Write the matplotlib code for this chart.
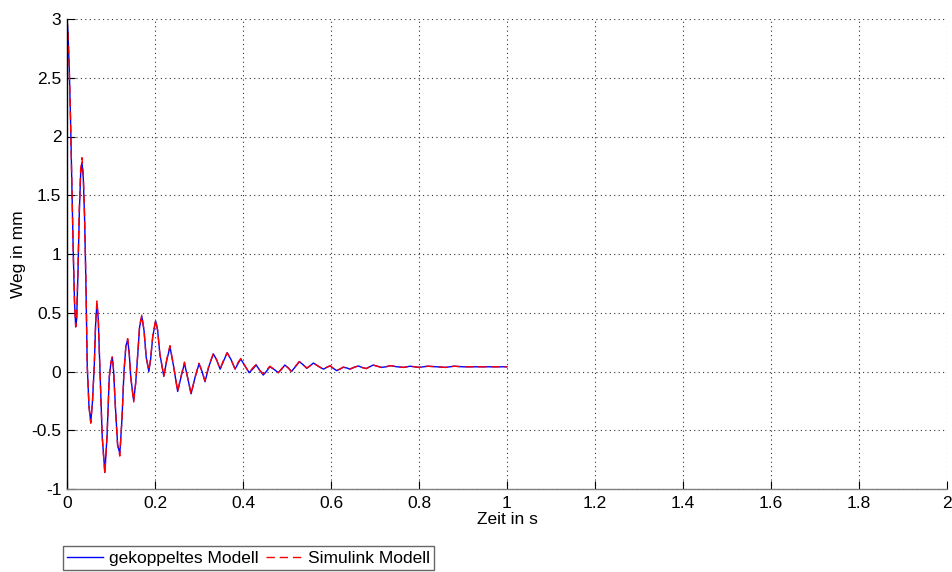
import matplotlib
matplotlib.use("Agg")
import matplotlib.pyplot as plt

plt.rcParams['font.family'] = ['Liberation Sans', 'DejaVu Sans']

# Time axis (s) and displacement (mm) of the coupled model
t_gekoppelt = [
    0.000, 0.002, 0.005, 0.008, 0.011, 0.014, 0.017, 0.0198, 0.022, 0.025,
    0.028, 0.031, 0.034, 0.037, 0.040, 0.043, 0.046, 0.050, 0.054, 0.058,
    0.062, 0.065, 0.068, 0.071, 0.075, 0.080, 0.086, 0.091, 0.096, 0.100,
    0.103, 0.106, 0.110, 0.115, 0.120, 0.125, 0.1295, 0.134, 0.138, 0.1415,
    0.145, 0.1515, 0.156, 0.160, 0.165, 0.170, 0.175, 0.180, 0.186, 0.190,
    0.195, 0.2015, 0.206, 0.211, 0.220, 0.227, 0.234, 0.242, 0.2515, 0.259,
    0.267, 0.274, 0.282, 0.291, 0.300, 0.307, 0.3136, 0.323, 0.3326, 0.340,
    0.348, 0.356, 0.364, 0.373, 0.382, 0.389, 0.395, 0.404, 0.414, 0.422,
    0.430, 0.438, 0.446, 0.453, 0.461, 0.470, 0.480, 0.488, 0.495, 0.503,
    0.510, 0.519, 0.528, 0.536, 0.545, 0.553, 0.560, 0.571, 0.583, 0.590,
    0.598, 0.606, 0.613, 0.620, 0.628, 0.636, 0.643, 0.652, 0.662, 0.670,
    0.680, 0.688, 0.696, 0.705, 0.715, 0.725, 0.735, 0.750, 0.765, 0.780,
    0.800, 0.820, 0.840, 0.860, 0.880, 0.900, 1.000,
]
weg_gekoppelt = [
    3.00, 2.90, 2.60, 2.15, 1.60, 1.05, 0.60, 0.38, 0.45, 0.85,
    1.35, 1.68, 1.78, 1.65, 1.30, 0.75, 0.05, -0.30, -0.43, -0.25,
    0.05, 0.40, 0.58, 0.45, 0.00, -0.55, -0.86, -0.55, -0.05, 0.08,
    0.12, 0.00, -0.30, -0.62, -0.70, -0.40, 0.00, 0.22, 0.27, 0.15,
    -0.05, -0.25, -0.10, 0.10, 0.38, 0.47, 0.35, 0.12, 0.00, 0.10,
    0.30, 0.43, 0.35, 0.15, -0.04, 0.10, 0.21, 0.05, -0.17, -0.05,
    0.07, -0.05, -0.19, -0.05, 0.064, 0.00, -0.087, 0.05, 0.15, 0.10,
    0.02, 0.09, 0.16, 0.10, 0.02, 0.07, 0.106, 0.05, -0.01, 0.02,
    0.055, 0.01, -0.03, 0.00, 0.04, 0.02, -0.01, 0.02, 0.055, 0.03,
    0.00, 0.04, 0.083, 0.06, 0.027, 0.05, 0.072, 0.045, 0.02, 0.035,
    0.047, 0.025, 0.007, 0.02, 0.036, 0.03, 0.02, 0.035, 0.047, 0.035,
    0.025, 0.04, 0.055, 0.045, 0.035, 0.04, 0.05, 0.04, 0.035, 0.045,
    0.035, 0.045, 0.04, 0.035, 0.045, 0.04, 0.04,
]

# Displacement (mm) of the Simulink model on the same time base
t_simulink = list(t_gekoppelt)
weg_simulink = [
    3.00, 2.90, 2.60, 2.15, 1.60, 1.05, 0.60, 0.38, 0.47, 0.90,
    1.40, 1.72, 1.82, 1.68, 1.32, 0.76, 0.05, -0.30, -0.44, -0.25,
    0.06, 0.41, 0.60, 0.46, 0.00, -0.56, -0.87, -0.55, -0.05, 0.08,
    0.13, 0.00, -0.31, -0.63, -0.72, -0.40, 0.00, 0.23, 0.28, 0.15,
    -0.05, -0.26, -0.10, 0.11, 0.39, 0.48, 0.35, 0.12, 0.01, 0.11,
    0.31, 0.44, 0.35, 0.15, -0.04, 0.11, 0.22, 0.05, -0.17, -0.04,
    0.08, -0.05, -0.19, -0.05, 0.07, 0.00, -0.08, 0.06, 0.15, 0.10,
    0.02, 0.10, 0.16, 0.10, 0.02, 0.08, 0.11, 0.05, -0.01, 0.03,
    0.06, 0.01, -0.02, 0.01, 0.045, 0.02, -0.01, 0.025, 0.055, 0.03,
    0.00, 0.045, 0.085, 0.06, 0.03, 0.05, 0.072, 0.045, 0.02, 0.035,
    0.05, 0.025, 0.01, 0.02, 0.038, 0.03, 0.02, 0.035, 0.048, 0.035,
    0.025, 0.04, 0.055, 0.045, 0.035, 0.04, 0.05, 0.04, 0.035, 0.045,
    0.035, 0.045, 0.04, 0.035, 0.045, 0.04, 0.04,
]

x_ticks = [0, 0.2, 0.4, 0.6, 0.8, 1.0, 1.2, 1.4, 1.6, 1.8, 2.0]
x_ticklabels = ['0', '0.2', '0.4', '0.6', '0.8', '1', '1.2', '1.4', '1.6', '1.8', '2']
y_ticks = [-1, -0.5, 0, 0.5, 1, 1.5, 2, 2.5, 3]
y_ticklabels = ['-1', '-0.5', '0', '0.5', '1', '1.5', '2', '2.5', '3']

FS = 12.5

fig = plt.figure(figsize=(9.53, 5.72), dpi=100)
ax = fig.add_axes([67 / 953, 1 - 489 / 572, 880 / 953, 470 / 572])

ax.plot(t_gekoppelt, weg_gekoppelt, color='#0000ff', lw=1.0, label='gekoppeltes Modell')
ax.plot(t_simulink, weg_simulink, color='#ff0000', lw=1.0, dashes=(6, 3.5),
        label='Simulink Modell')

ax.set_xlim(0, 2)
ax.set_ylim(-1, 3)
ax.set_xticks(x_ticks)
ax.set_xticklabels(x_ticklabels)
ax.set_yticks(y_ticks)
ax.set_yticklabels(y_ticklabels)

ax.grid(True, color='#303030', linestyle=(0, (1, 3)), linewidth=0.8)
ax.set_axisbelow(True)

for side in ('top', 'right'):
    ax.spines[side].set_visible(False)
ax.spines['left'].set_color('black')
ax.spines['bottom'].set_color('#808080')
ax.spines['left'].set_linewidth(1.0)
ax.spines['bottom'].set_linewidth(1.0)

ax.tick_params(axis='both', direction='in', length=6, width=0.8, color='black',
               labelsize=FS)
ax.tick_params(axis='x', pad=5)
ax.tick_params(axis='y', pad=4)

ax.set_xlabel('Zeit in s', fontsize=FS, labelpad=1)
ax.set_ylabel('Weg in mm', fontsize=FS, labelpad=4)

leg = fig.legend(loc='lower left', bbox_to_anchor=(63 / 953, 2 / 572), ncol=2,
                 fontsize=FS, frameon=True, fancybox=False, handlelength=2.05,
                 handletextpad=0.35, columnspacing=0.45, borderpad=0.25,
                 borderaxespad=0.0)
leg.get_frame().set_edgecolor('#404040')
leg.get_frame().set_linewidth(1.0)

fig.savefig('out.png', dpi=100)
